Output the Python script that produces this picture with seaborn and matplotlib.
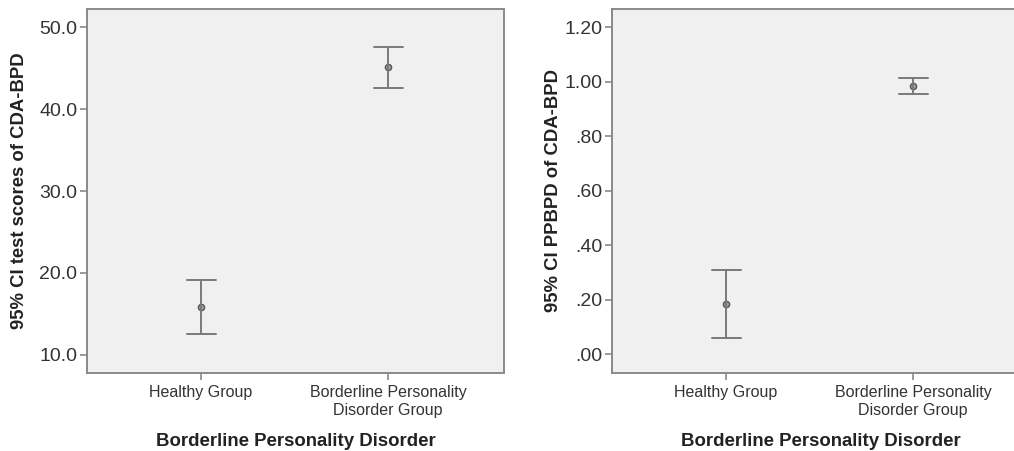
import matplotlib
matplotlib.use("Agg")
import matplotlib.pyplot as plt
import seaborn as sns
import pandas as pd

# group names and CI summaries
groups = ["Healthy Group", "Borderline Personality\nDisorder Group"]

score_mean = [15.8, 45.1]
score_low = [12.5, 42.6]
score_high = [19.1, 47.6]

ppbpd_mean = [0.185, 0.985]
ppbpd_low = [0.060, 0.955]
ppbpd_high = [0.308, 1.014]

score_ticks = [10.0, 20.0, 30.0, 40.0, 50.0]
ppbpd_ticks = [0.0, 0.2, 0.4, 0.6, 0.8, 1.0, 1.2]


def LongTable(mean, low, high):
    rows = []
    for g, m, lo, hi in zip(groups, mean, low, high):
        for v in (lo, m, hi):
            rows.append((g, v))
    return pd.DataFrame(rows, columns=["group", "value"])


sns.set_theme(style="white")
plt.rcParams['font.family'] = ['Liberation Sans', 'DejaVu Sans']

fig = plt.figure(figsize=(10.14, 4.51), dpi=100)
W, H = 1014.0, 451.0
ax1 = fig.add_axes([87 / W, 1 - 373 / H, 417 / W, 364 / H])
ax2 = fig.add_axes([612 / W, 1 - 373 / H, 417 / W, 364 / H])


def Panel(ax, df, ylim, ticks, fmt, ylabel, ypad):
    ax.set_facecolor("#f0f0f0")
    sns.pointplot(data=df, x="group", y="value", ax=ax, order=groups,
                  estimator="median", errorbar=lambda s: (s.min(), s.max()),
                  capsize=0.155, linestyle="none", color="#7a7a7a",
                  markers="o", markersize=4.5, err_kws={"linewidth": 1.4},
                  markerfacecolor="#a0a0a0", markeredgecolor="#555555",
                  markeredgewidth=1.0)
    ax.set_xlim(-0.61, 1.62)
    ax.set_ylim(*ylim)
    ax.set_yticks(ticks)
    ax.set_yticklabels([fmt(t) for t in ticks])
    for s in ax.spines.values():
        s.set_color("#8a8a8a")
        s.set_linewidth(1.4)
    ax.tick_params(axis="both", which="major", length=5, width=1.2,
                   color="#8a8a8a", labelcolor="#333333",
                   bottom=True, left=True)
    ax.tick_params(axis="x", labelsize=11.5, pad=4)
    ax.tick_params(axis="y", labelsize=14, pad=2)
    ax.set_xlabel("Borderline Personality Disorder", fontsize=13.4,
                  fontweight="bold", color="#222222", labelpad=11)
    ax.set_ylabel(ylabel, fontsize=13.3, fontweight="bold", color="#222222",
                  labelpad=ypad)


Panel(ax1, LongTable(score_mean, score_low, score_high), (7.8, 52.2),
      score_ticks, lambda t: "%.1f" % t, "95% CI test scores of CDA-BPD", 8)
Panel(ax2, LongTable(ppbpd_mean, ppbpd_low, ppbpd_high), (-0.0685, 1.266),
      ppbpd_ticks, lambda t: ("%.2f" % t).lstrip("0") if t < 1 else "%.2f" % t,
      "95% CI PPBPD of CDA-BPD", 2)

fig.savefig("out.png", dpi=100)
